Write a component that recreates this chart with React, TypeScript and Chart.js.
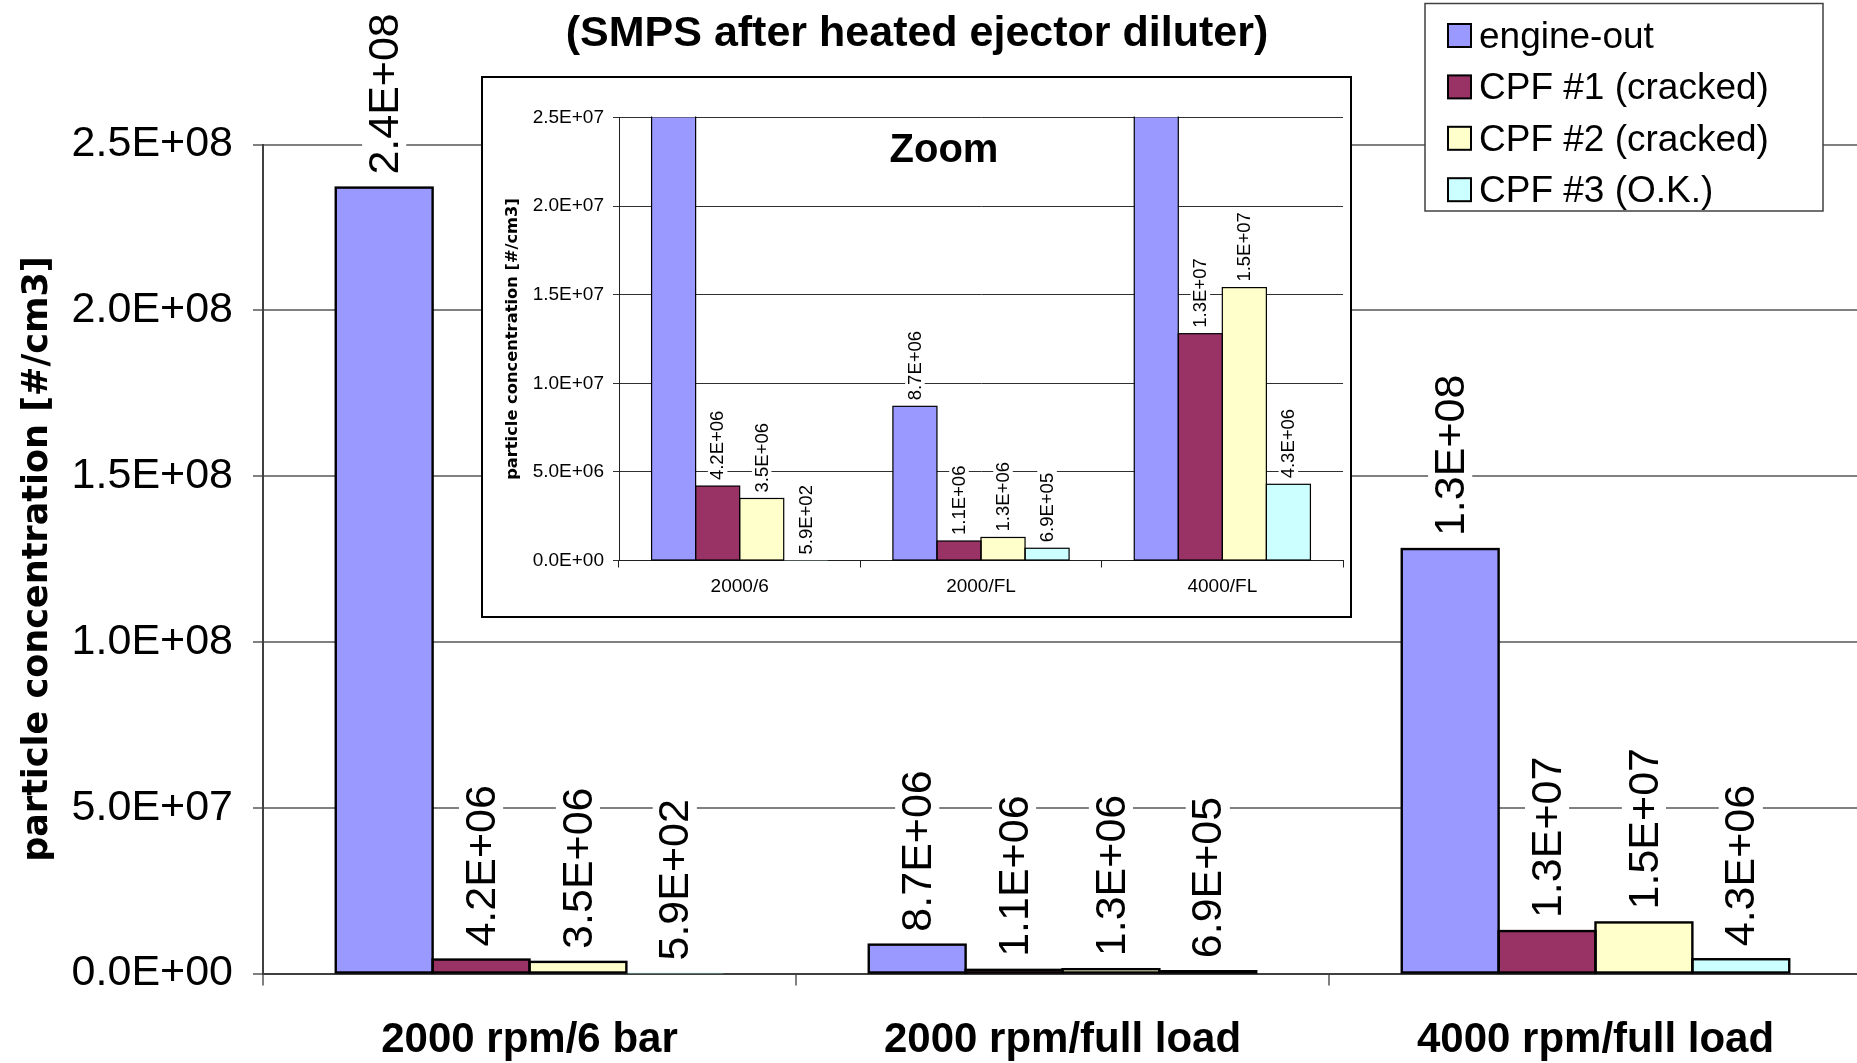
import React, { useEffect, useRef } from "react";
import { Chart, registerables } from "chart.js";

Chart.register(...registerables);

// Operating points (main axis and inset axis names)
const conditions = ["2000 rpm/6 bar", "2000 rpm/full load", "4000 rpm/full load"];
const insetConditions = ["2000/6", "2000/FL", "4000/FL"];

// Series
const seriesNames = ["engine-out", "CPF #1 (cracked)", "CPF #2 (cracked)", "CPF #3 (O.K.)"];
const engineOut = [2.37e8, 8.7e6, 1.28e8];
const cpf1Cracked = [4.2e6, 1.1e6, 1.28e7];
const cpf2Cracked = [3.5e6, 1.3e6, 1.54e7];
const cpf3Ok = [590, 6.9e5, 4.3e6];
const seriesValues = [engineOut, cpf1Cracked, cpf2Cracked, cpf3Ok];
const seriesColors = ["#9999FF", "#993366", "#FFFFCC", "#CCFFFF"];

// Axes
const mainMax = 2.5e8;
const mainStep = 5e7;
const insetMax = 2.5e7;
const insetStep = 5e6;
const yTitle = "particle concentration [#/cm3]";
const chartTitle = "(SMPS after heated ejector diluter)";
const insetTitle = "Zoom";

const SANS = '"Liberation Sans", Arial, Helvetica, sans-serif';
const WIDE = '"DejaVu Sans", Verdana, sans-serif';

// 2.4E+08 style number format
function sci(v: number): string {
  const [m, e] = Number(v).toExponential(1).split("e");
  const n = parseInt(e, 10);
  return `${m}E${n < 0 ? "-" : "+"}${String(Math.abs(n)).padStart(2, "0")}`;
}

function makeDatasets() {
  return seriesNames.map((name, k) => ({
    label: name,
    data: seriesValues[k],
    backgroundColor: seriesColors[k],
    borderWidth: 0,
  }));
}

// Outline every bar with a line centred on its edges, so even very short bars show a dark edge
function barOutlinePlugin(lineWidth: number) {
  return {
    id: "barOutline",
    afterDatasetsDraw(chart: any) {
      const ctx = chart.ctx as CanvasRenderingContext2D;
      const area = chart.chartArea;
      const yScale = chart.scales.y;
      const zero = yScale.getPixelForValue(0);
      ctx.save();
      ctx.beginPath();
      ctx.rect(area.left, area.top - 1, area.right - area.left, area.bottom - area.top + 2);
      ctx.clip();
      ctx.strokeStyle = "#000000";
      ctx.lineWidth = lineWidth;
      chart.data.datasets.forEach((ds: any, di: number) => {
        chart.getDatasetMeta(di).data.forEach((bar: any, i: number) => {
          const valueHeight = zero - yScale.getPixelForValue(ds.data[i]);
          if (valueHeight < 1) return;
          const top = Math.min(bar.y, bar.base);
          const h = Math.abs(bar.base - bar.y);
          ctx.strokeRect(bar.x - bar.width / 2, top, bar.width, h);
        });
      });
      ctx.restore();
    },
  };
}

// Rotated value labels above each bar, on a white patch that breaks the gridlines
function valueLabelPlugin(fontSize: number, gap: number, padAlong: number, padAcross: number) {
  return {
    id: "valueLabels",
    afterDatasetsDraw(chart: any) {
      const ctx = chart.ctx as CanvasRenderingContext2D;
      const yScale = chart.scales.y;
      ctx.save();
      ctx.font = `${fontSize}px ${SANS}`;
      ctx.textBaseline = "middle";
      ctx.textAlign = "left";
      chart.data.datasets.forEach((ds: any, di: number) => {
        const meta = chart.getDatasetMeta(di);
        meta.data.forEach((bar: any, i: number) => {
          const v = ds.data[i] as number;
          if (v > yScale.max) return;
          const text = sci(v);
          const w = ctx.measureText(text).width;
          const half = fontSize * 0.42 + padAcross;
          ctx.save();
          ctx.translate(bar.x, bar.y - gap);
          ctx.rotate(-Math.PI / 2);
          ctx.fillStyle = "#ffffff";
          ctx.fillRect(-padAlong, -half, w + 2 * padAlong, 2 * half);
          ctx.fillStyle = "#000000";
          ctx.fillText(text, 0, fontSize * 0.04);
          ctx.restore();
        });
      });
      ctx.restore();
    },
  };
}

const mainDecor = {
  id: "mainDecor",
  afterDraw(chart: any) {
    const ctx = chart.ctx as CanvasRenderingContext2D;
    ctx.save();
    // heading
    ctx.font = `bold 43px ${SANS}`;
    ctx.fillStyle = "#000";
    ctx.textAlign = "center";
    ctx.textBaseline = "middle";
    ctx.fillText(chartTitle, 917, 34.5);

    // legend box
    const bx = 1425, by = 3.5, bw = 398, bh = 207.5;
    ctx.fillStyle = "#ffffff";
    ctx.fillRect(bx, by, bw, bh);
    ctx.strokeStyle = "#404040";
    ctx.lineWidth = 1.5;
    ctx.strokeRect(bx, by, bw, bh);
    ctx.font = `37px ${SANS}`;
    ctx.textAlign = "left";
    seriesNames.forEach((name, k) => {
      const cy = 35.5 + k * 51.4;
      ctx.fillStyle = seriesColors[k];
      ctx.fillRect(1448, cy - 11.5, 23, 23);
      ctx.strokeStyle = "#000";
      ctx.lineWidth = 2;
      ctx.strokeRect(1448, cy - 11.5, 23, 23);
      ctx.fillStyle = "#000";
      ctx.fillText(name, 1479, cy + 2);
    });
    ctx.restore();
  },
};

const insetDecor = {
  id: "insetDecor",
  afterDraw(chart: any) {
    const ctx = chart.ctx as CanvasRenderingContext2D;
    ctx.save();
    ctx.font = `bold 40px ${SANS}`;
    ctx.fillStyle = "#000";
    ctx.textAlign = "center";
    ctx.textBaseline = "middle";
    ctx.fillText(insetTitle, 461, 73);
    ctx.restore();
  },
};

export default function App() {
  const mainRef = useRef<HTMLCanvasElement>(null);
  const insetRef = useRef<HTMLCanvasElement>(null);

  useEffect(() => {
    const main = new Chart(mainRef.current!, {
      type: "bar",
      data: { labels: conditions, datasets: makeDatasets() as any },
      options: {
        responsive: false,
        animation: false,
        events: [],
        layout: { padding: { left: 8, top: 144.5, right: 4, bottom: 0 } },
        datasets: { bar: { categoryPercentage: 0.727, barPercentage: 1 } },
        plugins: { legend: { display: false }, tooltip: { enabled: false }, title: { display: false } },
        scales: {
          x: {
            grid: { drawOnChartArea: false, drawTicks: true, tickLength: 12, color: "#808080", lineWidth: 2 },
            border: { color: "#404040", width: 2 },
            ticks: { font: { family: SANS, size: 42, weight: "bold" }, color: "#000", padding: 30, maxRotation: 0, autoSkip: false },
            afterFit: (s: any) => { s.height = 89.5; },
          },
          y: {
            min: 0,
            max: mainMax,
            ticks: { stepSize: mainStep, callback: (v: any) => sci(Number(v)), font: { family: SANS, size: 43 }, color: "#000", padding: 20 },
            grid: { color: "#808080", lineWidth: 2, tickLength: 10 },
            border: { color: "#404040", width: 2 },
            title: { display: true, text: yTitle, font: { family: WIDE, size: 35, weight: "bold" }, color: "#000", padding: { top: 9, bottom: 0 } },
            afterFit: (s: any) => { s.width = 255; },
          },
        },
      } as any,
      plugins: [barOutlinePlugin(2.4), valueLabelPlugin(43, 13, 6, 4), mainDecor],
    });

    const inset = new Chart(insetRef.current!, {
      type: "bar",
      data: { labels: insetConditions, datasets: makeDatasets() as any },
      options: {
        responsive: false,
        animation: false,
        events: [],
        layout: { padding: { left: 10, top: 39.5, right: 7, bottom: 0 } },
        datasets: { bar: { categoryPercentage: 0.73, barPercentage: 1 } },
        plugins: { legend: { display: false }, tooltip: { enabled: false }, title: { display: false } },
        scales: {
          x: {
            grid: { drawOnChartArea: false, drawTicks: true, tickLength: 7, color: "#202020", lineWidth: 1 },
            border: { color: "#202020", width: 1 },
            ticks: { font: { family: SANS, size: 19 }, color: "#000", padding: 8, maxRotation: 0, autoSkip: false },
            afterFit: (s: any) => { s.height = 55.5; },
          },
          y: {
            min: 0,
            max: insetMax,
            ticks: { stepSize: insetStep, callback: (v: any) => sci(Number(v)), font: { family: SANS, size: 19 }, color: "#000", padding: 9 },
            grid: { color: "#303030", lineWidth: 1, tickLength: 6 },
            border: { color: "#202020", width: 1 },
            title: { display: true, text: yTitle, font: { family: WIDE, size: 16.3, weight: "bold" }, color: "#000", padding: { top: 10, bottom: 0 } },
            afterFit: (s: any) => { s.width = 126; },
          },
        },
      } as any,
      plugins: [barOutlinePlugin(1.2), valueLabelPlugin(18.5, 6, 3, 2), insetDecor],
    });

    return () => {
      main.destroy();
      inset.destroy();
    };
  }, []);

  return (
    <div style={{ position: "absolute", left: 0, top: 0, width: 1857, height: 1063, overflow: "hidden", background: "#ffffff" }}>
      <canvas ref={mainRef} width={1866} height={1063} style={{ position: "absolute", left: 0, top: 0 }} />
      <div
        style={{
          position: "absolute",
          left: 481,
          top: 76,
          width: 871,
          height: 542,
          border: "2px solid #000",
          boxSizing: "border-box",
          background: "#ffffff",
        }}
      >
        <canvas ref={insetRef} width={867} height={538} style={{ display: "block" }} />
      </div>
    </div>
  );
}
